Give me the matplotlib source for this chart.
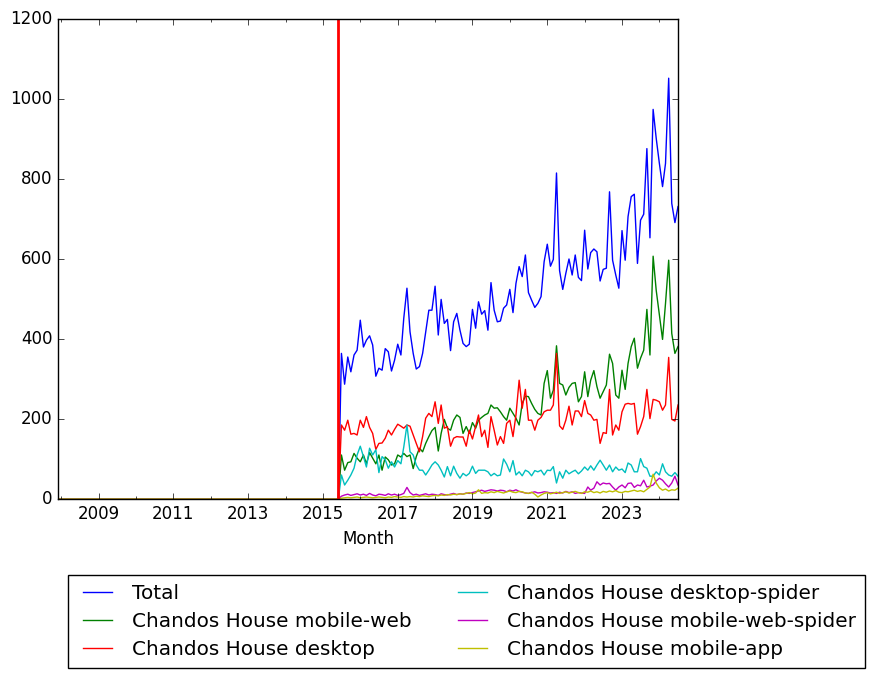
import matplotlib
matplotlib.use("Agg")
import matplotlib.pyplot as plt
import matplotlib.dates as mdates
import numpy as np
import pandas as pd

plt.style.use("classic")

# monthly page views, Jul 2015 .. Jul 2024 (before that the series are 0)
total = [364, 287, 355, 318, 360, 372, 447, 380, 397, 408, 385, 307, 327, 322, 376, 368, 320, 347,
         387, 360, 452, 527, 418, 364, 325, 331, 364, 418, 472, 472, 532, 410, 499, 439,
         449, 371, 443, 464, 422, 389, 381, 387, 474, 427, 493, 462, 471, 422, 541, 472, 443, 445,
         477, 485, 524, 466, 539, 581, 556, 610, 516, 497, 479, 489, 506, 593, 637, 582, 599, 815,
         571, 524, 564, 600, 560, 610, 554, 546, 672, 575, 616, 625, 618, 545, 574, 577, 768, 597,
         560, 527, 671, 597, 706, 756, 762, 589, 697, 712, 876, 653, 974, 902, 839, 781, 839, 1052,
         739, 691, 731]
mobile_web = [110, 72, 91, 93, 114, 102, 93, 110, 88, 116, 102, 88, 110, 72, 105, 98, 85, 88,
              110, 105, 114, 106, 110, 76, 106, 127, 118, 139, 156, 171, 179, 120, 164, 199,
              177, 172, 197, 210, 204, 164, 181, 164, 191, 177, 197, 204, 210, 214, 235, 227, 228, 218,
              206, 197, 227, 214, 202, 185, 239, 257, 256, 239, 224, 214, 210,
              289, 321, 252, 272, 383,
              289, 285, 260, 279, 289, 291, 243, 256, 318, 256, 297, 321, 281, 252, 268, 285, 362, 339,
              260, 252, 322, 274, 339, 381, 402, 327, 352, 372, 474, 360, 607, 522, 460, 399, 489, 597,
              414, 364, 381]
desktop = [185, 172, 197, 162, 164, 160, 197, 179, 206, 179, 164, 124, 139, 140, 152, 172, 160, 174,
           187, 182, 177, 185, 182, 160, 139, 118, 156, 202, 214, 206, 243, 189, 235, 177,
           181, 132, 152, 156, 155, 155, 132, 172, 150, 181, 210, 156, 172, 129, 206, 172, 135, 156,
           139, 189, 197, 156, 210, 297, 227, 274, 197, 197, 172, 197, 204, 218, 222, 222, 235, 364,
           183, 174, 197, 232, 185, 220, 220, 206, 246, 214, 210, 197, 199, 139, 166, 164, 274, 160,
           185, 172, 218, 237, 239, 237, 239, 162, 181, 206, 274, 201, 249, 247, 243, 222, 235, 354,
           199, 195, 235]
desktop_spider = [60, 35, 47, 60, 77, 110, 132, 106, 80, 127, 110, 123, 66, 106, 98, 77, 93, 80,
                  96, 88, 130, 185, 118, 110, 85, 72, 72, 60, 72, 85, 93, 85, 72, 55,
                  81, 58, 82, 64, 52, 64, 58, 64, 82, 64, 72, 72, 72, 68, 58, 64, 58, 60,
                  100, 87, 68, 96, 60, 68, 58, 72, 68, 58, 71, 68, 72, 60, 72, 71, 81, 40,
                  68, 52, 72, 63, 68, 72, 63, 70, 80, 72, 83, 72, 85, 97, 85, 72, 85, 68,
                  80, 72, 75, 66, 90, 85, 68, 68, 101, 81, 77, 57, 57, 68, 60, 88, 68, 60,
                  57, 66, 57]
mobile_web_spider = [7, 10, 12, 9, 11, 13, 10, 12, 9, 14, 10, 8, 12, 11, 9, 13, 10, 12, 9, 11, 14,
                     29, 16,
                     10, 12, 9, 11, 13, 10, 12, 11, 9, 13, 11, 10, 12, 14, 11, 13, 12, 15, 14, 16, 18,
                     20, 22, 19, 21, 23, 22, 20, 22, 21, 18, 22, 20, 23, 19, 17, 15, 14, 16, 18, 15, 16,
                     18, 17, 15, 16, 14, 17, 15, 19, 16, 18, 14, 16, 15, 14, 30, 22,
                     27, 43, 35, 40, 38, 39, 30, 22, 30, 35, 28, 39, 40, 29, 35, 33, 47, 30, 32, 35,
                     45, 52, 47, 38, 30, 40, 57, 35]
mobile_app = [2, 3, 4, 3, 4, 5, 3, 4, 5, 4, 3, 4, 5, 4, 3, 5, 4, 6, 5, 4, 6,
              5, 6, 5, 7, 6, 8, 7, 6, 8, 9, 8, 10, 9, 11, 10, 12, 11, 13, 12, 14, 16, 13, 15,
              23, 14, 16, 15, 18, 16, 19, 17, 15, 18, 20, 17, 16, 19, 18, 15, 14, 17, 12, 5, 10,
              14, 16, 13, 15, 17, 14, 16, 18, 15, 17, 19, 16, 14, 18, 17, 20,
              16, 18, 15, 19, 17, 20, 18, 21, 17, 16, 19, 18, 20, 22, 19, 21, 18, 24, 30, 62,
              40, 28, 22, 25, 20, 23, 22, 27]

months = pd.date_range("2007-12-01", "2024-07-01", freq="MS")
pad = [0] * (len(months) - len(total))

series = [
    ("Total", total, "b"),
    ("Chandos House mobile-web", mobile_web, "g"),
    ("Chandos House desktop", desktop, "r"),
    ("Chandos House desktop-spider", desktop_spider, "c"),
    ("Chandos House mobile-web-spider", mobile_web_spider, "m"),
    ("Chandos House mobile-app", mobile_app, "y"),
]

fig = plt.figure(figsize=(8.74, 6.79), dpi=100, facecolor="white")
ax = fig.add_axes([58 / 874, 1 - 499 / 679, 620 / 874, 480 / 679])

for label, vals, col in series:
    ax.plot(months, pad + vals, color=col, lw=1.0, label=label)

ax.axvline(pd.Timestamp("2015-06-01"), color="red", lw=2)

ax.set_xlim(months[0], months[-1])
ax.set_ylim(0, 1200)
ax.set_yticks(range(0, 1201, 200))
ax.set_xticks([pd.Timestamp(f"{y}-01-01") for y in range(2009, 2024, 2)])
ax.xaxis.set_major_formatter(mdates.DateFormatter("%Y"))
ax.xaxis.set_minor_locator(mdates.YearLocator(1))
ax.set_xlabel("Month")

fig.legend(loc="upper left", bbox_to_anchor=(68 / 874, 1 - 575 / 679), borderaxespad=0,
           ncol=2, fontsize=14.4, fancybox=False, handlelength=2.05, handletextpad=0.72,
           columnspacing=2.0, borderpad=0.45, labelspacing=0.45)

fig.savefig("out.png", dpi=100, facecolor="white")
